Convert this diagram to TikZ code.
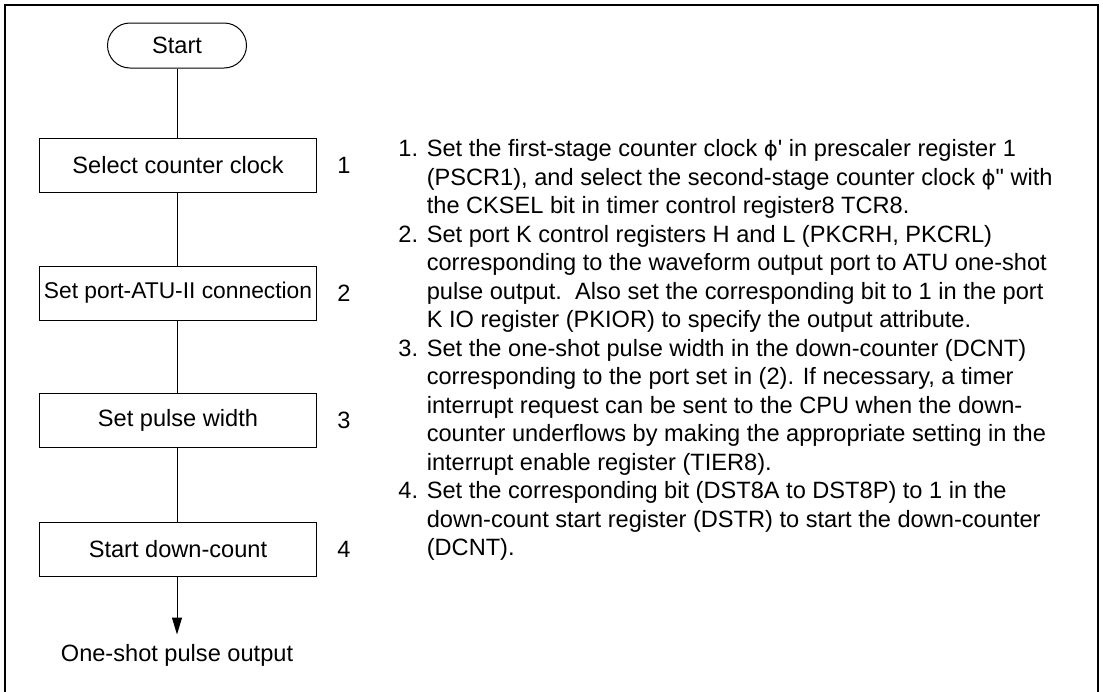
\documentclass[tikz,border=0pt]{standalone}
\usepackage{fontspec}
\setmainfont{Liberation Sans}
\newfontfamily\phifont[Scale=0.9]{DejaVu Sans}
\newfontfamily\quotefont[Ligatures=TeXOff]{Liberation Sans}
\usetikzlibrary{arrows.meta}
\newcommand{\phichar}{{\phifont ϕ}}
\newcommand{\sq}{{\quotefont\symbol{39}}}
\newcommand{\dq}{{\quotefont\symbol{34}}}
\begin{document}
\begin{tikzpicture}[x=0.5pt,y=-0.5pt,
  every node/.style={font=\fontsize{11.8}{14.25}\selectfont},
  stepbox/.style={draw, line width=0.5pt, minimum width=138.5pt, minimum height=27pt, inner sep=0pt},
  termbox/.style={draw, line width=0.5pt, rounded corners=11.25pt, minimum width=69.5pt, minimum height=22.5pt, inner sep=0pt},
  numlabel/.style={inner sep=0pt},
  itemtext/.style={inner sep=0pt, anchor=base west, align=left},
  flow/.style={line width=0.5pt},
  frameline/.style={line width=1.2pt, line cap=rect}
]
\useasboundingbox (0,0) rectangle (1103,691);
\draw[frameline] (5,691) -- (5,5) -- (1098,5) -- (1098,691);

\node[termbox] (start) at (177,45.5) {Start};
\node[stepbox] (b1) at (178,165.5) {Select counter clock};
\node[stepbox, font=\fontsize{11.4}{14.25}\selectfont] (b2) at (178,293) {Set port-ATU-II connection};
\node[stepbox] (b3) at (178,420.5) {Set pulse width};
\node[stepbox] (b4) at (178,549) {Start down-count};
\node[inner sep=4.5pt, anchor=base] (out) at (177,661) {One-shot pulse output};

\node[numlabel] (n1) at (344,165.5) {1};
\node[numlabel] (n2) at (344,293) {2};
\node[numlabel] (n3) at (344,420.5) {3};
\node[numlabel] (n4) at (344,549) {4};

\draw[flow] (start.south -| 177,0) -- (b1.north -| 177,0);
\draw[flow] (b1.south -| 177,0) -- (b2.north -| 177,0);
\draw[flow] (b2.south -| 177,0) -- (b3.north -| 177,0);
\draw[flow] (b3.south -| 177,0) -- (b4.north -| 177,0);
\draw[flow, -{Triangle[length=8.5pt, width=5pt]}] (b4.south -| 177,0) -- (out.north -| 177,0);

\node[itemtext] (i1) at (398,156.5) {\begin{tabular}[t]{@{}l@{ }l@{}}
1. & Set the first-stage counter clock \phichar\sq{} in prescaler register 1\\
 & (PSCR1), and select the second-stage counter clock \phichar\dq{} with\\
 & the CKSEL bit in timer control register8 TCR8.
\end{tabular}};
\node[itemtext] (i2) at (398,242) {\begin{tabular}[t]{@{}l@{ }l@{}}
2. & Set port K control registers H and L (PKCRH, PKCRL)\\
 & corresponding to the waveform output port to ATU one-shot\\
 & pulse output.\ \ Also set the corresponding bit to 1 in the port\\
 & K IO register (PKIOR) to specify the output attribute.
\end{tabular}};
\node[itemtext] (i3) at (398,356) {\begin{tabular}[t]{@{}l@{ }l@{}}
3. & Set the one-shot pulse width in the down-counter (DCNT)\\
 & corresponding to the port set in (2). If necessary, a timer\\
 & interrupt request can be sent to the CPU when the down-\\
 & counter underflows by making the appropriate setting in the\\
 & interrupt enable register (TIER8).
\end{tabular}};
\node[itemtext] (i4) at (398,498.5) {\begin{tabular}[t]{@{}l@{ }l@{}}
4. & Set the corresponding bit (DST8A to DST8P) to 1 in the\\
 & down-count start register (DSTR) to start the down-counter\\
 & (DCNT).
\end{tabular}};
\end{tikzpicture}
\end{document}
